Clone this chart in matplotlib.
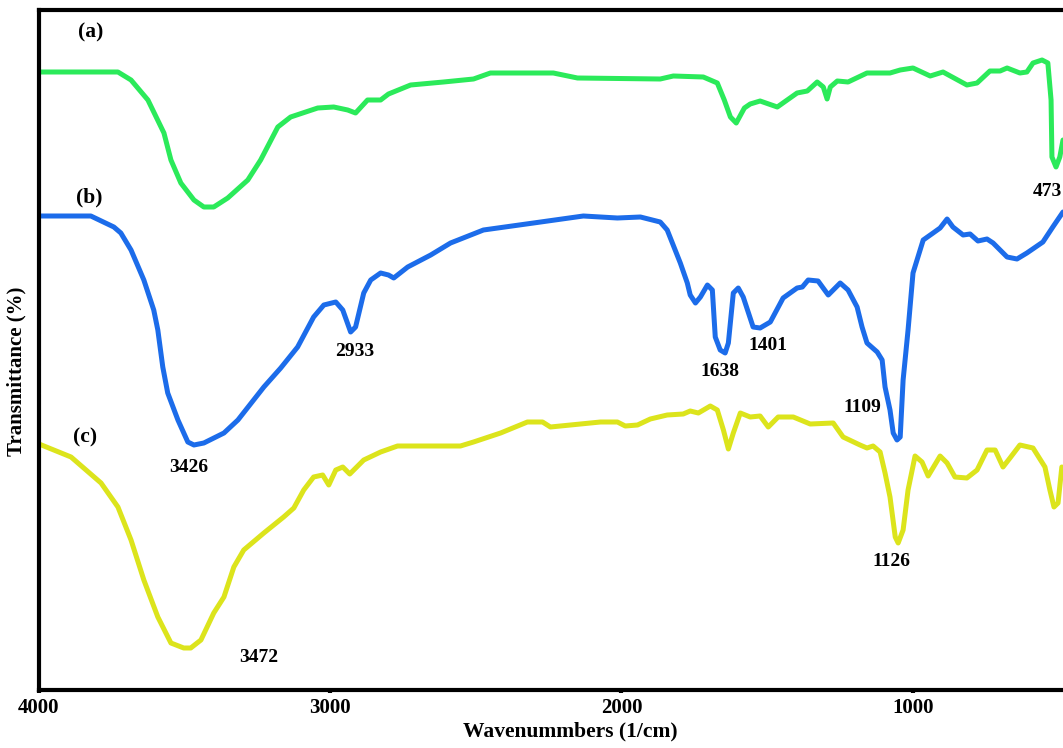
import matplotlib.pyplot as plt

plt.rcParams['font.family'] = ['Liberation Serif', 'DejaVu Serif']
plt.rcParams['font.weight'] = 'bold'

# (a) green spectrum
wn_a = [4000, 3729, 3684, 3626, 3571, 3547, 3513, 3468, 3434, 3400, 3352, 3283, 3239, 3180,
        3136, 3043, 2988, 2940, 2913, 2872, 2827, 2800, 2724, 2611, 2508, 2450, 2234, 2151,
        1867, 1822, 1719, 1671, 1647, 1626, 1606, 1578, 1558, 1524, 1465, 1397, 1362, 1328,
        1307, 1294, 1283, 1259, 1222, 1157, 1078, 1043, 999, 940, 896, 814, 779, 735, 700,
        676, 632, 608, 587, 556, 536, 525, 522, 508, 495, 484]
t_a = [61.8, 61.8, 61.0, 59.0, 55.7, 53.0, 50.7, 49.0, 48.3, 48.3, 49.2, 51.0, 53.0, 56.3,
       57.3, 58.2, 58.3, 58.0, 57.7, 59.0, 59.0, 59.6, 60.5, 60.8, 61.1, 61.7, 61.7, 61.2,
       61.1, 61.4, 61.3, 60.7, 59.0, 57.3, 56.7, 58.2, 58.6, 58.9, 58.3, 59.7, 59.9, 60.8,
       60.3, 59.1, 60.3, 60.9, 60.8, 61.7, 61.7, 62.0, 62.2, 61.4, 61.8, 60.5, 60.7, 61.9, 61.9,
       62.2, 61.7, 61.8, 62.7, 63.0, 62.7, 59.0, 53.3, 52.3, 53.3, 55.0]

# (b) blue spectrum
wn_b = [4000, 3822, 3743, 3719, 3684, 3640, 3606, 3592, 3575, 3558, 3523, 3489, 3468, 3434,
        3365, 3317, 3228, 3170, 3112, 3057, 3022, 2981, 2957, 2930, 2913, 2885, 2861, 2827,
        2800, 2782, 2734, 2655, 2587, 2474, 2302, 2131, 2014, 1935, 1867, 1843, 1798, 1774,
        1764, 1746, 1729, 1705, 1688, 1678, 1661, 1644, 1633, 1616, 1599, 1582, 1548, 1524,
        1489, 1445, 1397, 1379, 1359, 1325, 1290, 1249, 1222, 1191, 1174, 1157, 1122, 1105,
        1095, 1078, 1067, 1054, 1043, 1033, 1016, 999, 964, 930, 906, 882, 862, 827, 803,
        776, 745, 724, 676, 642, 608, 553, 519, 484]
t_b = [47.4, 47.4, 46.3, 45.7, 44.0, 41.0, 38.0, 36.0, 32.3, 29.7, 27.0, 24.8, 24.5, 24.7,
       25.7, 27.0, 30.3, 32.2, 34.3, 37.3, 38.5, 38.8, 38.0, 35.8, 36.3, 39.7, 41.0, 41.7,
       41.5, 41.2, 42.3, 43.5, 44.7, 46.0, 46.7, 47.4, 47.2, 47.3, 46.8, 46.0, 42.7, 40.7,
       39.5, 38.7, 39.3, 40.5, 40.0, 35.3, 34.0, 33.7, 34.7, 39.7, 40.2, 39.3, 36.3, 36.2,
       36.8, 39.2, 40.2, 40.3, 41.0, 40.9, 39.5, 40.7, 40.0, 38.3, 36.3, 34.7, 33.8, 33.0,
       30.3, 28.0, 25.7, 25.0, 25.3, 31.0, 36.0, 41.7, 45.0, 45.7, 46.2, 47.1, 46.3, 45.5, 45.6,
       44.9, 45.1, 44.7, 43.3, 43.1, 43.7, 44.8, 46.3, 47.8]

# (c) yellow spectrum
wn_c = [4000, 3890, 3787, 3729, 3684, 3640, 3592, 3547, 3503, 3479, 3444, 3400, 3365, 3331,
        3297, 3228, 3160, 3125, 3091, 3057, 3026, 3005, 2981, 2957, 2933, 2885, 2827, 2769,
        2553, 2508, 2415, 2323, 2271, 2244, 2072, 2014, 1987, 1945, 1901, 1843, 1788, 1764,
        1736, 1695, 1671, 1650, 1633, 1616, 1592, 1558, 1524, 1496, 1462, 1410, 1352, 1273,
        1239, 1181, 1157, 1136, 1112, 1095, 1078, 1060, 1050, 1033, 1016, 992, 968, 947, 906,
        882, 855, 814, 779, 745, 717, 690, 666, 632, 587, 546, 529, 515, 501, 488]
t_c = [24.6, 23.3, 20.7, 18.3, 15.0, 11.0, 7.3, 4.7, 4.2, 4.2, 5.0, 7.7, 9.3, 12.3,
       14.0, 15.7, 17.3, 18.2, 20.0, 21.3, 21.5, 20.5, 22.0, 22.3, 21.6, 23.0, 23.8, 24.4,
       24.4, 24.8, 25.7, 26.8, 26.8, 26.3, 26.8, 26.8, 26.4, 26.5, 27.1, 27.5, 27.6, 27.9,
       27.7, 28.4, 28.0, 26.0, 24.1, 25.7, 27.7, 27.3, 27.4, 26.3, 27.3, 27.3, 26.6, 26.7,
       25.3, 24.5, 24.2, 24.4, 23.8, 21.7, 19.3, 15.3, 14.7, 16.0, 20.0, 23.4, 22.8, 21.4, 23.4,
       22.7, 21.3, 21.2, 22.0, 24.0, 24.0, 22.3, 23.2, 24.5, 24.2, 22.3, 20.0, 18.3, 18.7, 22.3]

# peak labels
peak_text = ['473', '2933', '3426', '1638', '1401', '1109', '1126', '3472']
peak_x = [539, 2916, 3486, 1661, 1496, 1174, 1074, 3245]
peak_y = [49.8, 33.8, 22.2, 31.8, 34.4, 28.2, 12.8, 3.3]

curve_names = ['(a)', '(b)', '(c)']
name_x = [3822, 3828, 3842]
name_y = [65.8, 49.3, 25.3]

fig = plt.figure(figsize=(10.63, 7.48), dpi=100)
ax = fig.add_axes([39 / 1063, 58 / 748, 1024 / 1063, 680 / 748])

ax.plot(wn_a, t_a, color='#2BEA5A', linewidth=3.6, solid_joinstyle='round', solid_capstyle='round')
ax.plot(wn_b, t_b, color='#1C6CEA', linewidth=3.6, solid_joinstyle='round', solid_capstyle='round')
ax.plot(wn_c, t_c, color='#DCE41C', linewidth=3.6, solid_joinstyle='round', solid_capstyle='round')

for txt, x, y in zip(peak_text, peak_x, peak_y):
    ax.text(x, y, txt, ha='center', va='center', fontsize=14, fontweight='bold')
for txt, x, y in zip(curve_names, name_x, name_y):
    ax.text(x, y, txt, ha='center', va='center', fontsize=15.5, fontweight='bold')

ax.set_xlim(4000, 484)
ax.set_ylim(0, 68)
ax.set_xticks([4000, 3000, 2000, 1000])
ax.set_yticks([])
ax.tick_params(axis='x', length=2, width=3, pad=4, labelsize=15)
for lab in ax.get_xticklabels():
    lab.set_fontweight('bold')

for side in ['left', 'bottom', 'top']:
    ax.spines[side].set_linewidth(3)
ax.spines['right'].set_visible(False)

ax.set_xlabel('Wavenummbers (1/cm)', fontsize=15.5, fontweight='bold')
ax.xaxis.set_label_coords(0.519, -0.047)
ax.set_ylabel('Transmittance (%)', fontsize=15, fontweight='bold')
ax.yaxis.set_label_coords(-0.012, 0.468)

plt.savefig('out.png', dpi=100)
